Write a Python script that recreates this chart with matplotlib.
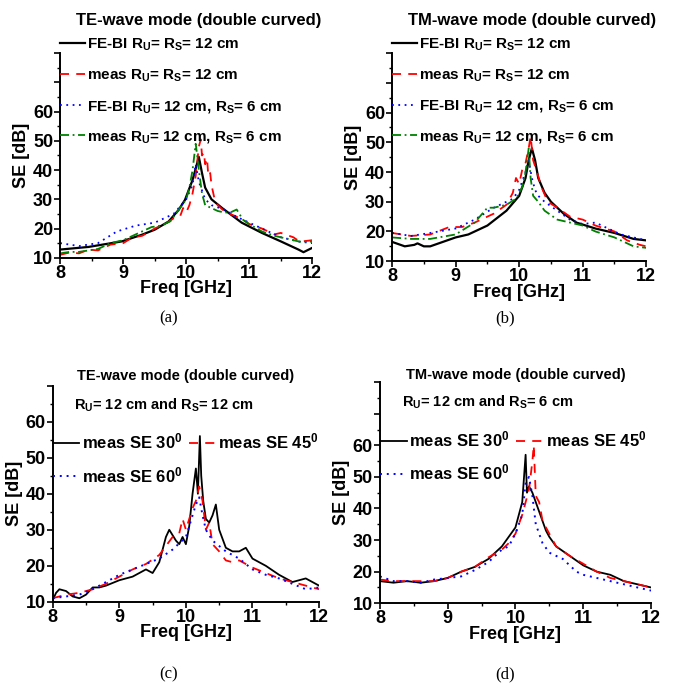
#!/usr/bin/env python

import numpy as np
import matplotlib
matplotlib.use("Agg")
import matplotlib.pyplot as plt
from matplotlib.ticker import MultipleLocator, FixedLocator, FixedFormatter

plt.rcParams['font.family'] = ['Liberation Sans', 'DejaVu Sans']
plt.rcParams['font.weight'] = 'bold'
plt.rcParams['mathtext.fontset'] = 'custom'
plt.rcParams['mathtext.rm'] = 'Liberation Sans:bold'
plt.rcParams['mathtext.it'] = 'Liberation Sans:bold'
plt.rcParams['mathtext.bf'] = 'Liberation Sans:bold'

# ---- (a) TE-wave mode ----
a_febi12_f = [8.0, 8.45, 8.98, 9.3, 9.5, 9.72, 9.88, 9.98, 10.1, 10.15, 10.2, 10.25, 10.3, 10.4,
              10.57, 10.88, 11.2, 11.5, 11.78, 11.86, 12.0]
a_febi12_se = [12.8, 13.7, 15.6, 17.9, 19.6, 22.4, 26.4, 29.8, 36.6, 40.5, 44.5, 39.0, 34.0, 30.0,
               27.0, 22.0, 18.5, 15.6, 12.8, 11.9, 13.4]
a_meas12_f = [8.0, 8.15, 8.3, 8.45, 8.6, 8.8, 9.0, 9.15, 9.3, 9.5, 9.7, 9.8, 9.9, 9.95, 10.0, 10.05,
              10.1, 10.15, 10.2, 10.23, 10.25, 10.28, 10.3, 10.33, 10.35, 10.38, 10.4, 10.45, 10.5,
              10.6, 10.7, 10.9, 11.0, 11.2, 11.4, 11.5, 11.7, 11.8, 12.0]
a_meas12_se = [11.0, 11.8, 11.5, 12.8, 12.5, 14.5, 15.0, 17.0, 17.5, 20.0, 22.0, 23.5, 24.0, 27.0, 25.5, 28.0,
               32.0, 38.0, 48.0, 50.5, 45.0, 46.0, 42.0, 44.0, 38.0, 39.0, 35.0, 30.0, 28.0,
               26.0, 25.0, 23.0, 21.5, 20.0, 18.0, 18.5, 17.0, 15.5, 16.0]
a_febi6_f = [8.0, 8.3, 8.6, 8.9, 9.2, 9.5, 9.8, 10.0, 10.1, 10.15, 10.2, 10.25, 10.3, 10.4,
             10.6, 10.8, 11.0, 11.2, 11.5, 11.8, 12.0]
a_febi6_se = [15.0, 14.0, 15.0, 19.0, 21.0, 22.0, 25.0, 30.0, 35.0, 42.0, 36.0, 33.0, 30.0, 28.0,
              26.5, 24.0, 22.0, 20.0, 17.0, 15.5, 15.0]
a_meas6_f = [8.0, 8.15, 8.3, 8.45, 8.6, 8.8, 9.0, 9.15, 9.3, 9.45, 9.6, 9.75, 9.9, 10.0, 10.05,
             10.1, 10.15, 10.18, 10.2, 10.25, 10.3, 10.4, 10.5, 10.6, 10.7, 10.8, 10.9,
             11.0, 11.2, 11.4, 11.6, 11.8, 12.0]
a_meas6_se = [11.5, 12.0, 12.0, 12.5, 13.0, 15.0, 16.0, 17.5, 19.0, 20.5, 21.0, 22.5, 27.0, 30.0, 34.0,
              40.0, 49.0, 44.0, 40.0, 32.0, 28.0, 27.0, 26.0, 25.5, 25.5, 26.5, 23.0,
              21.5, 19.0, 17.5, 16.5, 15.5, 15.5]

# ---- (b) TM-wave mode ----
b_febi12_f = [8.0, 8.2, 8.35, 8.4, 8.5, 8.6, 8.8, 9.0, 9.2, 9.5, 9.8, 10.0, 10.1, 10.15, 10.2,
              10.25, 10.3, 10.4, 10.5, 10.7, 10.9, 11.2, 11.5, 11.8, 12.0]
b_febi12_se = [16.5, 15.0, 15.5, 16.0, 15.0, 15.0, 16.5, 18.0, 19.0, 22.0, 27.0, 32.0, 38.0, 44.0, 48.0,
               44.0, 38.0, 33.0, 30.0, 26.0, 23.0, 21.0, 19.5, 17.5, 17.0]
b_meas12_f = [8.0, 8.3, 8.6, 8.9, 9.1, 9.3, 9.6, 9.8, 9.9, 9.95, 10.0, 10.05, 10.1, 10.15, 10.18,
              10.22, 10.28, 10.35, 10.45, 10.6, 10.8, 11.0, 11.2, 11.5, 11.7, 11.9, 12.0]
b_meas12_se = [19.5, 18.5, 19.0, 21.5, 21.5, 23.0, 26.0, 29.0, 33.0, 38.0, 36.0, 41.0, 43.0, 48.0, 52.0,
               44.0, 40.0, 35.0, 30.0, 28.0, 25.0, 24.0, 22.0, 20.0, 17.0, 15.5, 15.0]
b_febi6_f = [8.0, 8.3, 8.6, 9.0, 9.3, 9.6, 9.9, 10.0, 10.1, 10.15, 10.2, 10.25, 10.3, 10.4,
             10.6, 10.8, 11.0, 11.2, 11.4, 11.6, 11.8, 12.0]
b_febi6_se = [19.5, 18.5, 19.5, 21.0, 24.0, 28.0, 31.0, 34.0, 40.0, 44.0, 38.0, 34.0, 32.0, 30.0,
              27.0, 24.0, 22.5, 23.0, 21.0, 19.0, 18.0, 17.0]
b_meas6_f = [8.0, 8.3, 8.6, 9.0, 9.3, 9.5, 9.6, 9.8, 9.95, 10.05, 10.1, 10.15, 10.18, 10.22,
             10.3, 10.4, 10.6, 10.8, 11.0, 11.2, 11.5, 11.7, 11.8, 12.0]
b_meas6_se = [18.0, 17.5, 17.5, 19.0, 23.0, 28.0, 28.0, 29.0, 31.0, 35.0, 40.0, 48.0, 38.0, 32.0,
              30.0, 27.0, 24.0, 23.0, 22.0, 20.0, 18.0, 16.0, 15.0, 14.5]

# ---- (c) TE, Ru = 12 cm, Rs = 12 cm, angles ----
c_se30_f = [8.0, 8.05, 8.1, 8.2, 8.3, 8.4, 8.5, 8.6, 8.7, 8.8, 9.0, 9.2, 9.4, 9.5, 9.6, 9.7,
            9.75, 9.8, 9.85, 9.9, 9.95, 10.0, 10.05, 10.1, 10.15, 10.18, 10.21, 10.23, 10.26, 10.3, 10.35,
            10.4, 10.45, 10.5, 10.6, 10.7, 10.8, 10.9, 11.0, 11.2, 11.4, 11.6, 11.8, 11.9, 12.0]
c_se30 = [10.5, 12.5, 13.5, 13.0, 11.5, 11.0, 12.0, 14.0, 14.0, 14.5, 16.0, 17.0, 19.0, 18.0, 21.0, 28.0,
          30.0, 28.5, 27.0, 26.0, 28.0, 26.0, 31.0, 40.0, 47.0, 40.0, 56.0, 45.0, 38.0, 33.0, 32.0,
          34.0, 37.0, 30.0, 25.0, 24.0, 24.0, 25.0, 22.0, 20.0, 17.5, 15.5, 16.5, 15.5, 14.5]
c_se45_f = [8.0, 8.2, 8.4, 8.6, 8.8, 9.0, 9.2, 9.4, 9.6, 9.8, 9.9, 9.95, 10.0, 10.05, 10.1, 10.15,
            10.2, 10.25, 10.3, 10.35, 10.4, 10.5, 10.6, 10.7, 10.8, 11.0, 11.2, 11.4, 11.6, 11.8, 12.0]
c_se45 = [11.0, 12.0, 12.5, 13.5, 15.0, 17.0, 19.0, 20.5, 23.0, 28.0, 29.0, 33.0, 30.0, 33.0, 36.0, 38.0,
          42.0, 38.0, 30.0, 32.0, 26.0, 24.0, 21.5, 21.0, 21.5, 19.5, 18.0, 16.5, 15.5, 14.5, 13.5]
c_se60_f = [8.0, 8.2, 8.4, 8.6, 8.8, 9.0, 9.2, 9.4, 9.6, 9.8, 10.0, 10.1, 10.15, 10.2, 10.25,
            10.3, 10.4, 10.5, 10.6, 10.8, 11.0, 11.2, 11.4, 11.6, 11.8, 12.0]
c_se60 = [11.0, 11.5, 12.0, 13.5, 15.5, 17.5, 19.0, 20.5, 22.0, 24.5, 28.0, 34.0, 37.0, 39.0, 34.0,
          30.0, 27.0, 25.5, 24.0, 22.0, 19.0, 17.5, 16.5, 15.0, 13.5, 14.0]

# ---- (d) TM, Ru = 12 cm, Rs = 6 cm, angles ----
d_se30_f = [8.0, 8.2, 8.4, 8.6, 8.8, 9.0, 9.2, 9.4, 9.6, 9.8, 9.9, 10.0, 10.1, 10.15, 10.17,
            10.2, 10.25, 10.3, 10.4, 10.45, 10.5, 10.6, 10.8, 10.9, 11.0, 11.2, 11.4, 11.6, 11.8, 12.0]
d_se30 = [17.0, 16.5, 17.0, 16.5, 17.0, 18.0, 20.0, 21.5, 24.0, 28.0, 31.0, 34.0, 42.0, 57.0, 45.0,
          47.0, 45.0, 42.0, 36.0, 33.0, 31.0, 28.0, 25.0, 23.5, 22.0, 20.0, 19.0, 17.0, 16.0, 15.0]
d_se45_f = [8.0, 8.2, 8.4, 8.6, 8.8, 9.0, 9.2, 9.4, 9.6, 9.8, 9.9, 10.0, 10.1, 10.2, 10.25,
            10.27, 10.3, 10.35, 10.4, 10.5, 10.6, 10.8, 11.0, 11.2, 11.4, 11.6, 11.8, 12.0]
d_se45 = [17.5, 17.0, 17.0, 17.0, 17.0, 18.0, 20.0, 21.5, 24.5, 27.0, 29.0, 32.0, 38.0, 46.0, 55.0,
          60.0, 44.0, 42.0, 36.0, 32.0, 28.0, 25.0, 22.5, 20.0, 18.0, 17.0, 16.0, 15.0]
d_se60_f = [8.0, 8.2, 8.4, 8.6, 8.8, 9.0, 9.2, 9.4, 9.6, 9.8, 9.9, 10.0, 10.1, 10.15, 10.2,
            10.25, 10.3, 10.4, 10.5, 10.7, 10.9, 11.0, 11.2, 11.4, 11.6, 11.8, 12.0]
d_se60 = [18.5, 17.0, 17.0, 16.5, 17.5, 18.0, 18.5, 20.5, 23.0, 27.0, 28.0, 32.0, 38.0, 48.0, 50.0,
          44.0, 35.0, 29.0, 26.0, 24.0, 20.0, 19.0, 18.0, 17.0, 16.0, 15.0, 14.0]

ru_rs_12 = r"$R_U$= $R_S$= 12 cm"
ru12_rs6 = r"$R_U$= 12 cm, $R_S$= 6 cm"


def style_axes(ax, ytop):
    ax.set_xlim(8, 12)
    ax.set_ylim(10, ytop)
    for side in ['top', 'right']:
        ax.spines[side].set_visible(False)
    for side in ['left', 'bottom']:
        ax.spines[side].set_linewidth(1.4)
    ax.xaxis.set_major_locator(MultipleLocator(1))
    ax.xaxis.set_minor_locator(MultipleLocator(0.5))
    yt = list(range(10, ytop + 1, 10))
    ax.yaxis.set_major_locator(FixedLocator(yt))
    ax.yaxis.set_major_formatter(FixedFormatter([str(v) if v <= 60 else '' for v in yt]))
    ax.yaxis.set_minor_locator(MultipleLocator(5))
    ax.tick_params(which='major', direction='out', length=4, width=1.2, labelsize=13, pad=1)
    ax.tick_params(which='minor', direction='out', length=2.5, width=1.0)
    for lab in ax.get_xticklabels() + ax.get_yticklabels():
        lab.set_fontweight('bold')
    ax.set_xlabel('Freq [GHz]', fontsize=13, fontweight='bold', labelpad=-1)
    ax.set_ylabel('SE [dB]', fontsize=13, fontweight='bold', labelpad=2)


fig = plt.figure(figsize=(6.76, 6.91), dpi=100)

# top row
ax_a = fig.add_axes([0.089, 0.627, 0.373, 0.296])
ax_b = fig.add_axes([0.580, 0.622, 0.376, 0.301])
for ax, title, sets in [
    (ax_a, 'TE-wave mode (double curved)',
     (a_febi12_f, a_febi12_se, a_meas12_f, a_meas12_se, a_febi6_f, a_febi6_se, a_meas6_f, a_meas6_se)),
    (ax_b, 'TM-wave mode (double curved)',
     (b_febi12_f, b_febi12_se, b_meas12_f, b_meas12_se, b_febi6_f, b_febi6_se, b_meas6_f, b_meas6_se)),
]:
    f1, s1, f2, s2, f3, s3, f4, s4 = sets
    ax.plot(f1, s1, color='black', lw=1.6, ls='-', label='FE-BI ' + ru_rs_12)
    ax.plot(f2, s2, color='red', lw=1.3, ls=(0, (5, 4)), label='meas ' + ru_rs_12)
    ax.plot(f3, s3, color='blue', lw=1.3, ls=(0, (1, 2.5)), label='FE-BI ' + ru12_rs6)
    ax.plot(f4, s4, color='green', lw=1.3, ls=(0, (5, 2, 1, 2)), label='meas ' + ru12_rs6)
    style_axes(ax, 80)
    ax.set_title(title, fontsize=12, fontweight='bold', pad=20, x=0.55)
    ax.legend(loc='upper left', bbox_to_anchor=(0.0, 1.08), frameon=False,
              handlelength=1.6, handletextpad=0.15, labelspacing=0.95, borderpad=0,
              borderaxespad=0, prop={'weight': 'bold', 'size': 11})

# bottom row
ax_c = fig.add_axes([0.078, 0.129, 0.394, 0.313])
ax_d = fig.add_axes([0.562, 0.127, 0.401, 0.320])
for ax, ytop, pad, title, sub, sets in [
    (ax_c, 70, 4, 'TE-wave mode (double curved)', r"$R_U$= 12 cm and $R_S$= 12 cm",
     (c_se30_f, c_se30, c_se45_f, c_se45, c_se60_f, c_se60)),
    (ax_d, 80, 1.5, 'TM-wave mode (double curved)', r"$R_U$= 12 cm and $R_S$= 6 cm",
     (d_se30_f, d_se30, d_se45_f, d_se45, d_se60_f, d_se60)),
]:
    f1, s1, f2, s2, f3, s3 = sets
    l30, = ax.plot(f1, s1, color='black', lw=1.3, ls='-', label=r'meas SE 30$^0$')
    l45, = ax.plot(f2, s2, color='red', lw=1.3, ls=(0, (5, 4)), label=r'meas SE 45$^0$')
    l60, = ax.plot(f3, s3, color='blue', lw=1.4, ls=(0, (1, 2.5)), label=r'meas SE 60$^0$')
    style_axes(ax, ytop)
    ax.set_title(title, fontsize=10.5, fontweight='bold', pad=pad, x=0.5)
    ax.text(0.08, 0.91, sub, transform=ax.transAxes, fontsize=10.5, fontweight='bold',
            ha='left', va='center')
    ax.legend([l30, l60, l45], [l30.get_label(), l60.get_label(), l45.get_label()],
              ncol=2, loc='upper left', bbox_to_anchor=(0.0, 0.786), frameon=False,
              handlelength=1.6, handletextpad=0.15, labelspacing=0.8, columnspacing=0.4,
              borderpad=0, borderaxespad=0, prop={'weight': 'bold', 'size': 12})

for x, y, s in [(0.25, 0.527, '(a)'), (0.747, 0.527, '(b)'), (0.25, 0.012, '(c)'), (0.747, 0.012, '(d)')]:
    fig.text(x, y, s, fontsize=12, family='Liberation Serif', fontweight='normal', ha='center', va='bottom')

fig.savefig('out.png', dpi=100)
